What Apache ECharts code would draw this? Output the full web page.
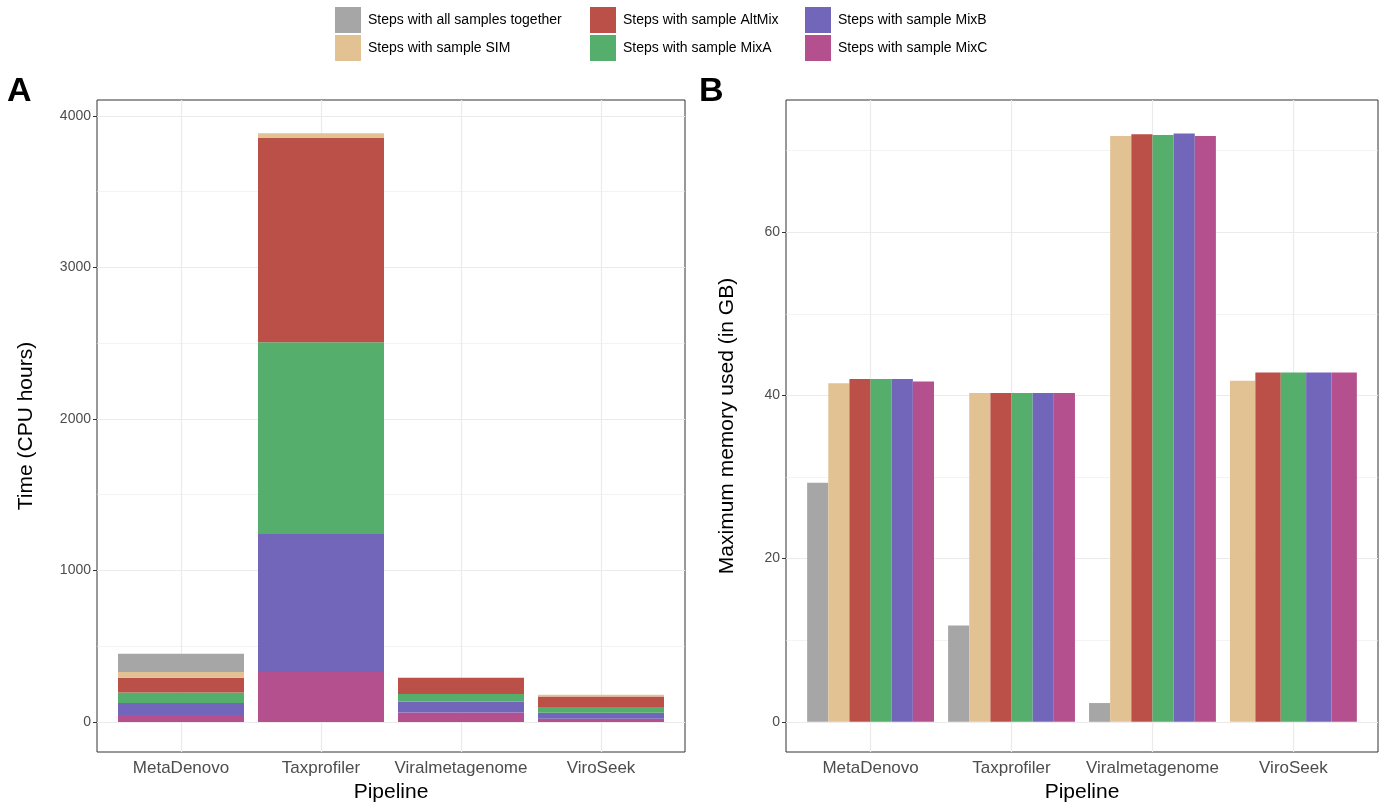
<!DOCTYPE html>
<html>
<head>
<meta charset="utf-8">
<script src="https://cdn.jsdelivr.net/npm/echarts@6/dist/echarts.min.js"></script>
<style>html,body{margin:0;background:#fff}#c{width:1379px;height:808px}</style>
</head>
<body>
<div id="c"></div>
<script>
var pipelines = ['MetaDenovo', 'Taxprofiler', 'Viralmetagenome', 'ViroSeek']
var seriesNames = ['Steps with all samples together', 'Steps with sample SIM', 'Steps with sample AltMix',
  'Steps with sample MixA', 'Steps with sample MixB', 'Steps with sample MixC']
var colors = ['#A6A6A6', '#E2C293', '#BA5047', '#55AE6B', '#7266BA', '#B5508F']

// panel A: CPU hours per step group (stacked)
var timeAll = [120, 0, 0, 0]
var timeSIM = [38, 30, 0, 11]
var timeAltMix = [97, 1349, 107, 70]
var timeMixA = [70, 1265, 49, 38]
var timeMixB = [79, 911, 73, 39]
var timeMixC = [46, 330, 63, 22]

// panel B: max memory (GB), null = no bar
var memAll = [29.3, 11.8, 2.3, null]
var memSIM = [41.5, 40.3, 71.8, 41.8]
var memAltMix = [42.0, 40.3, 72.0, 42.8]
var memMixA = [42.0, 40.3, 71.9, 42.8]
var memMixB = [42.0, 40.3, 72.1, 42.8]
var memMixC = [41.7, 40.3, 71.8, 42.8]

var timeTicks = [0, 1000, 2000, 3000, 4000]
var memTicks = [0, 20, 40, 60]

var timeData = [timeAll, timeSIM, timeAltMix, timeMixA, timeMixB, timeMixC]
var memData = [memAll, memSIM, memAltMix, memMixA, memMixB, memMixC]

var chart = echarts.init(document.getElementById('c'))
var FONT = 'Liberation Sans'
var grid = '#EBEBEB'

function gridLines (majors, minors, xIndex, yIndex) {
  var d = []
  majors.forEach(function (v) { d.push({ yAxis: v, lineStyle: { width: 1.2 } }) })
  minors.forEach(function (v) { d.push({ yAxis: v, lineStyle: { width: 0.6 } }) })
  ;[1, 2, 3, 4].forEach(function (v) { d.push({ xAxis: v, lineStyle: { width: 1.2 } }) })
  return {
    type: 'line', xAxisIndex: xIndex, yAxisIndex: yIndex, data: [], zlevel: 0, z: 0, silent: true,
    markLine: { silent: true, symbol: 'none', label: { show: false }, animation: false,
      lineStyle: { color: grid, type: 'solid' }, data: d }
  }
}

function xAxisFor (gi) {
  return {
    type: 'value', gridIndex: gi, min: 0.4, max: 4.6,
    name: 'Pipeline', nameLocation: 'middle', nameGap: 30,
    nameTextStyle: { fontFamily: FONT, fontSize: 21, color: '#000' },
    axisLine: { show: false }, splitLine: { show: false },
    axisTick: { customValues: [1, 2, 3, 4], length: 4, lineStyle: { color: '#333' } },
    axisLabel: { customValues: [1, 2, 3, 4], fontFamily: FONT, fontSize: 17, color: '#4D4D4D', margin: 8,
      formatter: function (v) { return pipelines[Math.round(v) - 1] } }
  }
}

function yAxisFor (gi, min, max, ticks, title) {
  return {
    type: 'value', gridIndex: gi, min: min, max: max,
    name: title, nameLocation: 'middle', nameGap: gi === 0 ? 60 : 48,
    nameTextStyle: { fontFamily: FONT, fontSize: 21, color: '#000' },
    axisLine: { show: false }, splitLine: { show: false },
    axisTick: { customValues: ticks, length: 4, lineStyle: { color: '#333' } },
    axisLabel: { customValues: ticks, fontFamily: FONT, fontSize: 14, color: '#4D4D4D', margin: 6,
      formatter: function (v) { return String(v) } }
  }
}

function rectItem (params, api) {
  var x = api.value(0), y0 = api.value(1), y1 = api.value(2), w = api.value(3)
  var p1 = api.coord([x - w / 2, y1])
  var p2 = api.coord([x + w / 2, y0])
  return { type: 'rect', shape: { x: p1[0], y: p1[1], width: p2[0] - p1[0], height: p2[1] - p1[1] },
    style: { fill: api.visual('color') } }
}

var series = [
  gridLines(timeTicks, [500, 1500, 2500, 3500], 0, 0),
  gridLines(memTicks, [10, 30, 50, 70], 1, 1)
]

// stacked: bottom is MixC, top is all-samples
var base = [0, 0, 0, 0]
for (var s = 5; s >= 0; s--) {
  var sp = timeData[s].map(function (v, i) {
    var item = [i + 1, base[i], base[i] + v, 0.9]
    base[i] += v
    return item
  })
  series.push({
    name: seriesNames[s], type: 'custom', xAxisIndex: 0, yAxisIndex: 0, zlevel: 1,
    itemStyle: { color: colors[s] }, encode: { x: 0, y: [1, 2] },
    data: sp, renderItem: rectItem
  })
}

// dodged bars: positions depend on how many bars a pipeline has
var perGroup = pipelines.map(function (p, i) {
  return memData.filter(function (arr) { return arr[i] != null }).length
})
for (var k = 0; k < 6; k++) {
  var pts = []
  memData[k].forEach(function (v, i) {
    if (v == null) return
    var slot = 0
    for (var j = 0; j < k; j++) if (memData[j][i] != null) slot++
    var w = 0.9 / perGroup[i]
    pts.push([i + 1 - 0.45 + w * (slot + 0.5), 0, v, w])
  })
  series.push({
    name: seriesNames[k], type: 'custom', xAxisIndex: 1, yAxisIndex: 1, zlevel: 1,
    itemStyle: { color: colors[k] }, encode: { x: 0, y: [1, 2] },
    data: pts, renderItem: rectItem
  })
}

function legendCol (left, names) {
  return {
    left: left, top: 2, orient: 'vertical', itemWidth: 26, itemHeight: 26, itemGap: 2,
    icon: 'rect', selectedMode: false, data: names,
    textStyle: { fontFamily: FONT, fontSize: 14, color: '#000', padding: [0, 0, 0, 2] }
  }
}

chart.setOption({
  animation: false,
  textStyle: { fontFamily: FONT },
  title: [
    { text: 'A', left: 2, top: 70, textStyle: { fontFamily: FONT, fontSize: 34, fontWeight: 'bold', color: '#000' } },
    { text: 'B', left: 694, top: 70, textStyle: { fontFamily: FONT, fontSize: 34, fontWeight: 'bold', color: '#000' } }
  ],
  legend: [
    legendCol(330, [seriesNames[0], seriesNames[1]]),
    legendCol(585, [seriesNames[2], seriesNames[3]]),
    legendCol(800, [seriesNames[4], seriesNames[5]])
  ],
  grid: [
    { left: 97, top: 100, width: 588, height: 653, show: true, borderColor: '#333', borderWidth: 1, backgroundColor: '#fff' },
    { left: 786, top: 100, width: 592, height: 653, show: true, borderColor: '#333', borderWidth: 1, backgroundColor: '#fff' }
  ],
  xAxis: [xAxisFor(0), xAxisFor(1)],
  yAxis: [
    yAxisFor(0, -198, 4105, timeTicks, 'Time (CPU hours)'),
    yAxisFor(1, -3.7, 76.2, memTicks, 'Maximum memory used (in GB)')
  ],
  series: series
})
</script>
</body>
</html>
